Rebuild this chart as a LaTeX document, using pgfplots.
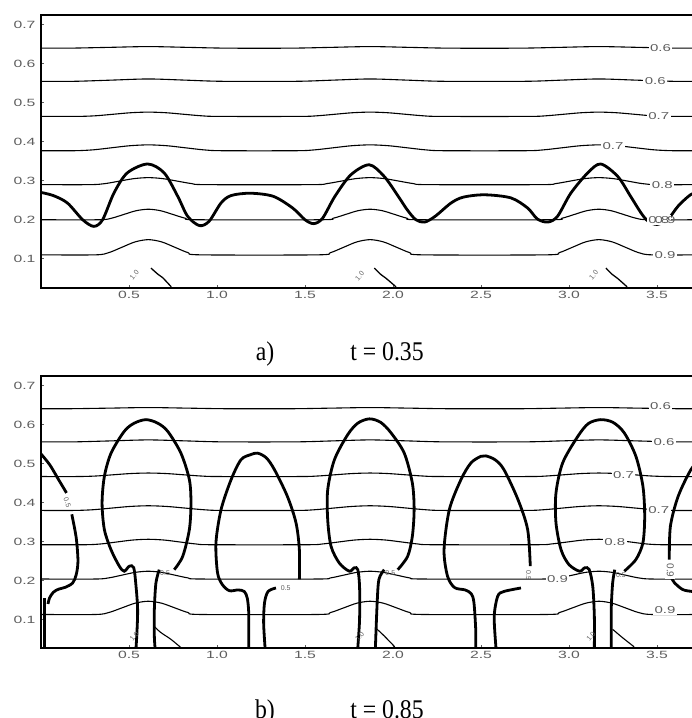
\documentclass[border=0pt]{standalone}
\usepackage{fontspec}
\setmainfont{Liberation Serif}
\newfontfamily\lab{Liberation Sans}
\usepackage{graphicx}
\usepackage{pgfplots}
\pgfplotsset{compat=1.18}
\definecolor{tickgray}{HTML}{5E5E5E}
\newcommand{\wide}[1]{\scalebox{1.5}[1]{#1}}

\pgfplotsset{
  panel/.style={
    scale only axis, width=660bp, xmin=0, xmax=3.75,
    axis line style={line width=1.8bp},
    tick align=inside, tick pos=left, major tick length=3bp,
    tick style={line width=0.6bp, tickgray},
    xtick={0.5,1,1.5,2,2.5,3,3.5},
    xticklabels={\wide{0.5},\wide{1.0},\wide{1.5},\wide{2.0},\wide{2.5},\wide{3.0},\wide{3.5}},
    ytick={0.1,0.2,0.3,0.4,0.5,0.6,0.7},
    yticklabels={\wide{0.1},\wide{0.2},\wide{0.3},\wide{0.4},\wide{0.5},\wide{0.6},\wide{0.7}},
    ticklabel style={font=\lab\fontsize{10.5bp}{11bp}\selectfont, text=tickgray},
    yticklabel style={xshift=-2bp},
  },
  iso/.style={line width=1.1bp, black, smooth, no marks},
  front/.style={line width=2.8bp, black, smooth, tension=0.5, no marks},
}
\tikzset{
  lbl/.style={font=\lab\fontsize{10bp}{11bp}\selectfont, text=tickgray, fill=white, inner sep=1.5bp},
  tiny/.style={font=\lab\fontsize{7bp}{8bp}\selectfont, text=tickgray, inner sep=0.5bp},
}

\begin{document}
\begin{tikzpicture}
\useasboundingbox (0,0) rectangle (692bp,718bp);

% ---------- a) t = 0.35 ----------
\begin{axis}[panel, at={(41bp,430bp)}, anchor=south west, height=273bp,
  ymin=0.025, ymax=0.725]
\addplot[iso] coordinates {(0,0.640) (0.16,0.640) (0.385,0.642) (0.61,0.644) (0.835,0.642) (1.06,0.640) (1.42,0.640) (1.645,0.642) (1.87,0.644) (2.095,0.642) (2.32,0.640) (2.72,0.640) (2.945,0.642) (3.17,0.644) (3.395,0.642) (3.62,0.640) (3.75,0.640)};
\addplot[iso] coordinates {(0,0.555) (0.19,0.555) (0.40,0.558) (0.61,0.561) (0.82,0.558) (1.03,0.555) (1.45,0.555) (1.66,0.558) (1.87,0.561) (2.08,0.558) (2.29,0.555) (2.75,0.555) (2.96,0.558) (3.17,0.561) (3.38,0.558) (3.59,0.555) (3.75,0.555)};
\addplot[iso] coordinates {(0,0.465) (0.21,0.465) (0.31,0.4666) (0.41,0.4705) (0.51,0.4744) (0.61,0.476) (0.71,0.4744) (0.81,0.4705) (0.91,0.4666) (1.01,0.465) (1.47,0.465) (1.57,0.4666) (1.67,0.4705) (1.77,0.4744) (1.87,0.476) (1.97,0.4744) (2.07,0.4705) (2.17,0.4666) (2.27,0.465) (2.77,0.465) (2.87,0.4666) (2.97,0.4705) (3.07,0.4744) (3.17,0.476) (3.27,0.4744) (3.37,0.4705) (3.47,0.4666) (3.57,0.465) (3.75,0.465)};
\addplot[iso] coordinates {(0,0.377) (0.19,0.377) (0.295,0.3792) (0.40,0.3845) (0.505,0.3898) (0.61,0.392) (0.715,0.3898) (0.82,0.3845) (0.925,0.3792) (1.03,0.377) (1.45,0.377) (1.555,0.3792) (1.66,0.3845) (1.765,0.3898) (1.87,0.392) (1.975,0.3898) (2.08,0.3845) (2.185,0.3792) (2.29,0.377) (2.75,0.377) (2.855,0.3792) (2.96,0.3845) (3.065,0.3898) (3.17,0.392) (3.275,0.3898) (3.38,0.3845) (3.485,0.3792) (3.59,0.377) (3.75,0.377)};
\addplot[iso] coordinates {(0,0.290) (0.28,0.290) (0.3625,0.2926) (0.445,0.299) (0.5275,0.3054) (0.61,0.308) (0.6925,0.3054) (0.775,0.299) (0.8575,0.2926) (0.94,0.290) (1.54,0.290) (1.6225,0.2926) (1.705,0.299) (1.7875,0.3054) (1.87,0.308) (1.9525,0.3054) (2.035,0.299) (2.1175,0.2926) (2.20,0.290) (2.84,0.290) (2.9225,0.2926) (3.005,0.299) (3.0875,0.3054) (3.17,0.308) (3.2525,0.3054) (3.335,0.299) (3.4175,0.2926) (3.50,0.290) (3.75,0.290)};
\addplot[iso] coordinates {(0,0.200) (0.33,0.200) (0.40,0.2039) (0.47,0.2135) (0.54,0.2231) (0.61,0.227) (0.68,0.2231) (0.75,0.2135) (0.82,0.2039) (0.89,0.200) (1.59,0.200) (1.66,0.2039) (1.73,0.2135) (1.80,0.2231) (1.87,0.227) (1.94,0.2231) (2.01,0.2135) (2.08,0.2039) (2.15,0.200) (2.89,0.200) (2.96,0.2039) (3.03,0.2135) (3.10,0.2231) (3.17,0.227) (3.24,0.2231) (3.31,0.2135) (3.38,0.2039) (3.45,0.200) (3.75,0.200)};
\addplot[iso] coordinates {(0,0.110) (0.31,0.110) (0.385,0.1157) (0.46,0.1295) (0.535,0.1433) (0.61,0.149) (0.685,0.1433) (0.76,0.1295) (0.835,0.1157) (0.91,0.110) (1.57,0.110) (1.645,0.1157) (1.72,0.1295) (1.795,0.1433) (1.87,0.149) (1.945,0.1433) (2.02,0.1295) (2.095,0.1157) (2.17,0.110) (2.87,0.110) (2.945,0.1157) (3.02,0.1295) (3.095,0.1433) (3.17,0.149) (3.245,0.1433) (3.32,0.1295) (3.395,0.1157) (3.47,0.110) (3.75,0.110)};
% 1.0 pieces
\addplot[iso, line width=1.3bp] coordinates {(0.625,0.076) (0.665,0.060) (0.69,0.052) (0.74,0.028)};
\addplot[iso, line width=1.3bp] coordinates {(1.894,0.076) (1.93,0.060) (1.96,0.050) (2.017,0.028)};
\addplot[iso, line width=1.3bp] coordinates {(3.21,0.076) (3.245,0.060) (3.275,0.050) (3.33,0.028)};
% interface
\addplot[front] coordinates {(0.0,0.270) (0.07,0.262) (0.15,0.243) (0.237,0.200) (0.30,0.183) (0.35,0.200) (0.415,0.269) (0.49,0.320) (0.606,0.343) (0.70,0.320) (0.777,0.260) (0.833,0.209) (0.90,0.185) (0.955,0.196) (1.023,0.243) (1.08,0.262) (1.19,0.268) (1.32,0.260) (1.43,0.230) (1.50,0.200) (1.55,0.190) (1.60,0.204) (1.67,0.260) (1.76,0.315) (1.865,0.341) (1.95,0.311) (2.03,0.260) (2.08,0.226) (2.13,0.200) (2.18,0.194) (2.24,0.209) (2.33,0.243) (2.40,0.258) (2.52,0.264) (2.67,0.256) (2.765,0.230) (2.82,0.202) (2.88,0.194) (2.935,0.209) (3.01,0.268) (3.106,0.320) (3.18,0.343) (3.277,0.311) (3.35,0.260) (3.41,0.217) (3.45,0.196) (3.50,0.188) (3.56,0.200) (3.62,0.235) (3.69,0.264) (3.75,0.275)};
\node[lbl] at (axis cs:3.52,0.640) {\wide{0.6}};
\node[lbl] at (axis cs:3.49,0.555) {\wide{0.6}};
\node[lbl] at (axis cs:3.51,0.465) {\wide{0.7}};
\node[lbl] at (axis cs:3.25,0.388) {\wide{0.7}};
\node[lbl] at (axis cs:3.53,0.290) {\wide{0.8}};
\node[lbl] at (axis cs:3.51,0.200) {\wide{0.8}};
\node[lbl, fill=none] at (axis cs:3.545,0.200) {\wide{0.9}};
\node[lbl] at (axis cs:3.545,0.110) {\wide{0.9}};
\node[tiny, rotate=50] at (axis cs:0.53,0.059) {1.0};
\node[tiny, rotate=50] at (axis cs:1.81,0.056) {1.0};
\node[tiny, rotate=50] at (axis cs:3.14,0.059) {1.0};
\end{axis}

% ---------- b) t = 0.85 ----------
\begin{axis}[panel, at={(41bp,70bp)}, anchor=south west, height=272bp,
  ymin=0.027, ymax=0.725]
\addplot[iso] coordinates {(0,0.641) (0.16,0.641) (0.385,0.6425) (0.61,0.644) (0.835,0.6425) (1.06,0.641) (1.42,0.641) (1.645,0.6425) (1.87,0.644) (2.095,0.6425) (2.32,0.641) (2.72,0.641) (2.945,0.6425) (3.17,0.644) (3.395,0.6425) (3.62,0.641) (3.75,0.641)};
\addplot[iso] coordinates {(0,0.556) (0.19,0.556) (0.40,0.5585) (0.61,0.561) (0.82,0.5585) (1.03,0.556) (1.45,0.556) (1.66,0.5585) (1.87,0.561) (2.08,0.5585) (2.29,0.556) (2.75,0.556) (2.96,0.5585) (3.17,0.561) (3.38,0.5585) (3.59,0.556) (3.75,0.556)};
\addplot[iso] coordinates {(0,0.467) (0.21,0.467) (0.31,0.4683) (0.41,0.4715) (0.51,0.4747) (0.61,0.476) (0.71,0.4747) (0.81,0.4715) (0.91,0.4683) (1.01,0.467) (1.47,0.467) (1.57,0.4683) (1.67,0.4715) (1.77,0.4747) (1.87,0.476) (1.97,0.4747) (2.07,0.4715) (2.17,0.4683) (2.27,0.467) (2.77,0.467) (2.87,0.4683) (2.97,0.4715) (3.07,0.4747) (3.17,0.476) (3.27,0.4747) (3.37,0.4715) (3.47,0.4683) (3.57,0.467) (3.75,0.467)};
\addplot[iso] coordinates {(0,0.380) (0.19,0.380) (0.295,0.3818) (0.40,0.386) (0.505,0.3902) (0.61,0.392) (0.715,0.3902) (0.82,0.386) (0.925,0.3818) (1.03,0.380) (1.45,0.380) (1.555,0.3818) (1.66,0.386) (1.765,0.3902) (1.87,0.392) (1.975,0.3902) (2.08,0.386) (2.185,0.3818) (2.29,0.380) (2.75,0.380) (2.855,0.3818) (2.96,0.386) (3.065,0.3902) (3.17,0.392) (3.275,0.3902) (3.38,0.386) (3.485,0.3818) (3.59,0.380) (3.75,0.380)};
\addplot[iso] coordinates {(0,0.292) (0.25,0.292) (0.34,0.294) (0.43,0.299) (0.52,0.304) (0.61,0.306) (0.70,0.304) (0.79,0.299) (0.88,0.294) (0.97,0.292) (1.51,0.292) (1.60,0.294) (1.69,0.299) (1.78,0.304) (1.87,0.306) (1.96,0.304) (2.05,0.299) (2.14,0.294) (2.23,0.292) (2.81,0.292) (2.90,0.294) (2.99,0.299) (3.08,0.304) (3.17,0.306) (3.26,0.304) (3.35,0.299) (3.44,0.294) (3.53,0.292) (3.75,0.292)};
\addplot[iso] coordinates {(0,0.204) (0.31,0.204) (0.385,0.2069) (0.46,0.214) (0.535,0.2211) (0.61,0.224) (0.685,0.2211) (0.76,0.214) (0.835,0.2069) (0.91,0.204) (1.57,0.204) (1.645,0.2069) (1.72,0.214) (1.795,0.2211) (1.87,0.224) (1.945,0.2211) (2.02,0.214) (2.095,0.2069) (2.17,0.204) (2.87,0.204) (2.945,0.2069) (3.02,0.214) (3.095,0.2211) (3.17,0.224) (3.245,0.2211) (3.32,0.214) (3.395,0.2069) (3.47,0.204) (3.75,0.204)};
\addplot[iso] coordinates {(0,0.113) (0.31,0.113) (0.385,0.118) (0.46,0.130) (0.535,0.142) (0.61,0.147) (0.685,0.142) (0.76,0.130) (0.835,0.118) (0.91,0.113) (1.57,0.113) (1.645,0.118) (1.72,0.130) (1.795,0.142) (1.87,0.147) (1.945,0.142) (2.02,0.130) (2.095,0.118) (2.17,0.113) (2.87,0.113) (2.945,0.118) (3.02,0.130) (3.095,0.142) (3.17,0.147) (3.245,0.142) (3.32,0.130) (3.395,0.118) (3.47,0.113) (3.75,0.113)};
% 1.0 pieces
\addplot[iso, line width=1.1bp] coordinates {(0.644,0.082) (0.68,0.067) (0.739,0.049) (0.795,0.028)};
\addplot[iso, line width=1.1bp] coordinates {(1.91,0.075) (1.95,0.058) (2.01,0.030)};
\addplot[iso, line width=1.1bp] coordinates {(3.248,0.075) (3.30,0.055) (3.37,0.030)};
% interface: left partial bubble and wall
\addplot[front] coordinates {(0.0,0.525) (0.05,0.497) (0.10,0.459) (0.145,0.425)};
\addplot[front] coordinates {(0.175,0.370) (0.20,0.310) (0.21,0.250) (0.20,0.215) (0.18,0.194) (0.14,0.183) (0.10,0.178) (0.07,0.170) (0.048,0.155) (0.04,0.140)};
\addplot[front, line width=3.2bp] coordinates {(0.02,0.155) (0.02,0.100) (0.02,0.028)};
% bubble 1
\addplot[front] coordinates {(0.757,0.228) (0.805,0.262) (0.843,0.331) (0.852,0.399) (0.843,0.459) (0.795,0.527) (0.72,0.583) (0.663,0.604) (0.597,0.613) (0.53,0.604) (0.473,0.583) (0.398,0.527) (0.36,0.467) (0.347,0.399) (0.36,0.331) (0.398,0.279) (0.445,0.237) (0.473,0.224) (0.502,0.237) (0.527,0.233) (0.54,0.185) (0.549,0.126) (0.545,0.066) (0.54,0.028)};
\addplot[front] coordinates {(0.672,0.228) (0.653,0.194) (0.644,0.126) (0.644,0.057) (0.648,0.028)};
% bubble 2
\addplot[front] coordinates {(1.468,0.203) (1.468,0.279) (1.449,0.348) (1.40,0.416) (1.326,0.485) (1.28,0.515) (1.231,0.527) (1.19,0.523) (1.136,0.510) (1.08,0.459) (1.023,0.382) (0.994,0.297) (1.003,0.220) (1.03,0.190) (1.07,0.174) (1.12,0.176) (1.155,0.172) (1.172,0.155) (1.18,0.120) (1.18,0.070) (1.18,0.028)};
\addplot[front] coordinates {(1.335,0.181) (1.29,0.172) (1.27,0.143) (1.265,0.091) (1.273,0.028)};
% bubble 3
\addplot[front] coordinates {(2.027,0.228) (2.083,0.262) (2.11,0.314) (2.12,0.382) (2.11,0.450) (2.064,0.527) (1.989,0.579) (1.93,0.606) (1.866,0.615) (1.80,0.604) (1.742,0.574) (1.667,0.510) (1.629,0.433) (1.629,0.356) (1.648,0.288) (1.695,0.245) (1.752,0.224) (1.78,0.233) (1.80,0.228) (1.81,0.185) (1.81,0.100) (1.80,0.028)};
\addplot[front] coordinates {(1.95,0.228) (1.92,0.203) (1.91,0.143) (1.90,0.028)};
% bubble 4
\addplot[front] coordinates {(2.78,0.237) (2.765,0.331) (2.71,0.408) (2.63,0.485) (2.58,0.510) (2.528,0.520) (2.50,0.519) (2.443,0.502) (2.386,0.459) (2.32,0.382) (2.29,0.279) (2.31,0.211) (2.35,0.182) (2.41,0.176) (2.445,0.166) (2.46,0.143) (2.47,0.074) (2.47,0.028)};
\addplot[front] coordinates {(2.727,0.181) (2.63,0.172) (2.595,0.160) (2.575,0.108) (2.585,0.028)};
% bubble 5
\addplot[front] coordinates {(3.314,0.224) (3.38,0.254) (3.42,0.297) (3.43,0.365) (3.42,0.442) (3.38,0.519) (3.314,0.579) (3.25,0.606) (3.18,0.613) (3.11,0.603) (3.05,0.570) (2.964,0.502) (2.926,0.425) (2.926,0.348) (2.955,0.279) (3.00,0.241) (3.06,0.224) (3.09,0.233) (3.115,0.228) (3.135,0.185) (3.144,0.108) (3.144,0.028)};
\addplot[front] coordinates {(3.26,0.228) (3.248,0.194) (3.24,0.126) (3.24,0.028)};
% bubble 6 (partial)
\addplot[front] coordinates {(3.75,0.515) (3.693,0.485) (3.62,0.416) (3.576,0.339) (3.57,0.254)};
\addplot[front] coordinates {(3.585,0.205) (3.60,0.194) (3.646,0.177) (3.70,0.172) (3.75,0.170)};
\node[lbl] at (axis cs:3.52,0.648) {\wide{0.6}};
\node[lbl] at (axis cs:3.54,0.556) {\wide{0.6}};
\node[lbl] at (axis cs:3.31,0.470) {\wide{0.7}};
\node[lbl] at (axis cs:3.51,0.380) {\wide{0.7}};
\node[lbl] at (axis cs:3.26,0.300) {\wide{0.8}};
\node[lbl] at (axis cs:2.935,0.204) {\wide{0.9}};
\node[lbl] at (axis cs:3.545,0.125) {\wide{0.9}};
\node[lbl, rotate=-90] at (axis cs:3.575,0.226) {0.9};
\node[tiny, rotate=-90] at (axis cs:2.77,0.213) {0.5};
\node[tiny, rotate=-70] at (axis cs:0.15,0.400) {0.5};
\node[tiny] at (axis cs:0.705,0.220) {0.5};
\node[tiny] at (axis cs:1.39,0.182) {0.5};
\node[tiny] at (axis cs:1.985,0.218) {0.5};
\node[tiny] at (axis cs:3.295,0.215) {0.5};
\node[tiny, rotate=50] at (axis cs:0.53,0.057) {1.0};
\node[tiny, rotate=50] at (axis cs:1.81,0.057) {1.0};
\node[tiny, rotate=50] at (axis cs:3.125,0.057) {1.0};
\end{axis}

\node[anchor=base, font=\fontsize{27bp}{30bp}\selectfont, xscale=0.88] at (265bp,357bp) {a)};
\node[anchor=base, font=\fontsize{27bp}{30bp}\selectfont, xscale=0.88] at (387bp,357bp) {t = 0.35};
\node[anchor=base, font=\fontsize{27bp}{30bp}\selectfont, xscale=0.88] at (265bp,0bp) {b)};
\node[anchor=base, font=\fontsize{27bp}{30bp}\selectfont, xscale=0.88] at (387bp,0bp) {t = 0.85};
\end{tikzpicture}
\end{document}
